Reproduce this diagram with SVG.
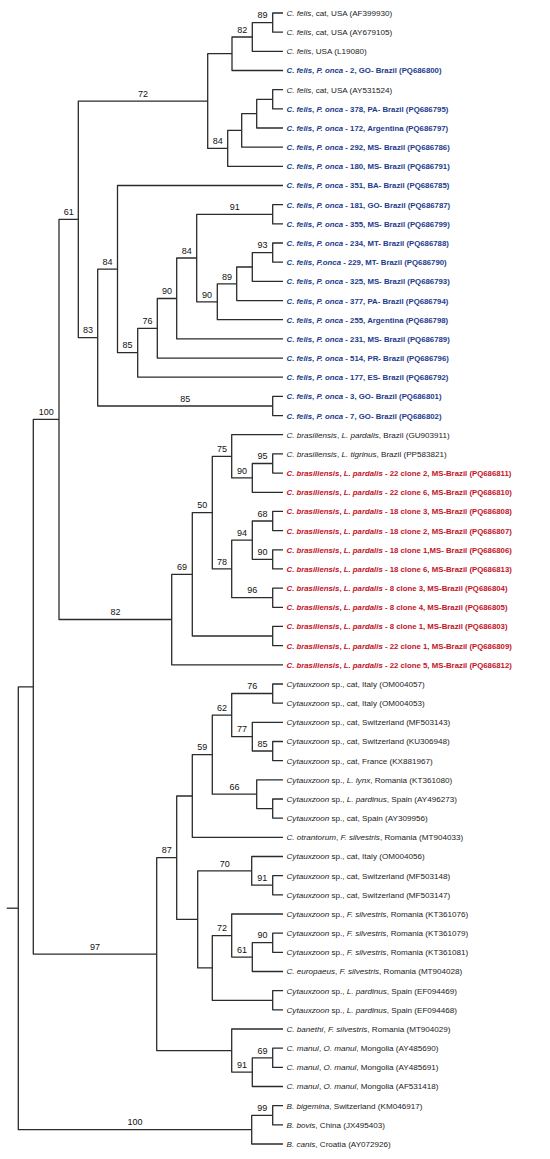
<svg xmlns="http://www.w3.org/2000/svg" width="550" height="1159" viewBox="0 0 550 1159">
<style>
.e{fill:none;stroke:#2b2b2b;stroke-width:1.3;stroke-linejoin:round;stroke-linecap:butt}
text{font-family:"Liberation Sans",Arial,sans-serif}
.l{font-size:8.1px;fill:#222}
.bl{font-size:7.8px;font-weight:bold;fill:#1d3a8c}
.rd{font-size:7.8px;font-weight:bold;fill:#c4121f}
.i{font-style:italic}
.bs{font-size:9px;fill:#111;text-anchor:middle}
</style>
<rect width="550" height="1159" fill="#fff"/>
<g id="connectors">
<path class="e" d="M283 13 H272.7 V32.2 H283"/>
<path class="e" d="M272.7 22.6 H252.3 V51.3 H283"/>
<path class="e" d="M252.3 37 H232 V70.5 H283"/>
<path class="e" d="M283 89.7 H272.7 V108.9 H283"/>
<path class="e" d="M272.7 99.3 H256.7 V128 H283"/>
<path class="e" d="M256.7 113.6 H241.7 V147.2 H283"/>
<path class="e" d="M241.7 130.4 H227.7 V166.4 H283"/>
<path class="e" d="M232 53.7 H207.7 V148.4 H227.7"/>
<path class="e" d="M283 204.7 H272.7 V223.9 H283"/>
<path class="e" d="M283 243 H272.7 V262.2 H283"/>
<path class="e" d="M272.7 252.6 H252.3 V281.4 H283"/>
<path class="e" d="M252.3 267 H236.7 V300.6 H283"/>
<path class="e" d="M236.7 283.8 H217.3 V319.7 H283"/>
<path class="e" d="M272.7 214.3 H196.7 V301.8 H217.3"/>
<path class="e" d="M196.7 258 H176.7 V338.9 H283"/>
<path class="e" d="M176.7 298.5 H157.3 V358.1 H283"/>
<path class="e" d="M157.3 328.3 H137.7 V377.2 H283"/>
<path class="e" d="M283 185.5 H117.5 V352.7 H137.7"/>
<path class="e" d="M283 396.4 H272.7 V415.6 H283"/>
<path class="e" d="M117.5 269.1 H97.7 V406 H272.7"/>
<path class="e" d="M207.7 101.1 H78.3 V337.6 H97.7"/>
<path class="e" d="M283 453.9 H272.7 V473.1 H283"/>
<path class="e" d="M272.7 463.5 H252.3 V492.3 H283"/>
<path class="e" d="M283 434.7 H231.7 V477.9 H252.3"/>
<path class="e" d="M283 511.4 H272.7 V530.6 H283"/>
<path class="e" d="M283 549.8 H272.7 V568.9 H283"/>
<path class="e" d="M272.7 521 H252.3 V559.3 H272.7"/>
<path class="e" d="M283 588.1 H272.7 V607.3 H283"/>
<path class="e" d="M252.3 540.2 H231.7 V597.7 H272.7"/>
<path class="e" d="M231.7 456.3 H212.3 V568.9 H231.7"/>
<path class="e" d="M283 626.4 H272.7 V645.6 H283"/>
<path class="e" d="M212.3 512.6 H192.3 V636 H272.7"/>
<path class="e" d="M192.3 574.3 H171.7 V664.8 H283"/>
<path class="e" d="M78.3 219.3 H59 V619.5 H171.7"/>
<path class="e" d="M283 684 H272.7 V703.1 H283"/>
<path class="e" d="M283 741.5 H272.7 V760.6 H283"/>
<path class="e" d="M283 722.3 H252.3 V751 H272.7"/>
<path class="e" d="M272.7 693.5 H231.7 V736.7 H252.3"/>
<path class="e" d="M283 799 H272.7 V818.1 H283"/>
<path class="e" d="M283 779.8 H256.7 V808.6 H272.7"/>
<path class="e" d="M231.7 715.1 H212.3 V794.2 H256.7"/>
<path class="e" d="M212.3 754.6 H192.3 V837.3 H283"/>
<path class="e" d="M283 875.7 H272.7 V894.8 H283"/>
<path class="e" d="M283 856.5 H251.7 V885.2 H272.7"/>
<path class="e" d="M283 933.2 H272.7 V952.3 H283"/>
<path class="e" d="M272.7 942.7 H252.3 V971.5 H283"/>
<path class="e" d="M283 914 H231.7 V957.1 H252.3"/>
<path class="e" d="M283 990.7 H272.7 V1009.8 H283"/>
<path class="e" d="M231.7 935.6 H212.3 V1000.3 H272.7"/>
<path class="e" d="M251.7 870.9 H197.7 V967.9 H212.3"/>
<path class="e" d="M192.3 796 H176.7 V919.4 H197.7"/>
<path class="e" d="M283 1048.2 H272.7 V1067.4 H283"/>
<path class="e" d="M272.7 1057.8 H252.3 V1086.5 H283"/>
<path class="e" d="M283 1029 H231.7 V1072.1 H252.3"/>
<path class="e" d="M176.7 857.7 H156.7 V1050.6 H231.7"/>
<path class="e" d="M283 1105.7 H272.7 V1124.9 H283"/>
<path class="e" d="M272.7 1115.3 H251.7 V1144 H283"/>
<path class="e" d="M59 419.4 H33.3 V954.1 H156.7"/>
<path class="e" d="M33.3 686.8 H18.3 V1129.7 H251.7"/>
<path class="e" d="M6.7 908.2 H18.3"/>
</g>
<g id="bootstrap">
<g id="b-n89"><text class="bs" x="262.5" y="18.3">89</text></g>
<g id="b-n82"><text class="bs" x="242.2" y="32.7">82</text></g>
<g id="b-n72"><text class="bs" x="143" y="96.8">72</text></g>
<g id="b-n84a"><text class="bs" x="217.7" y="144.1">84</text></g>
<g id="b-n91a"><text class="bs" x="234.7" y="210">91</text></g>
<g id="b-n84b"><text class="bs" x="186.7" y="253.7">84</text></g>
<g id="b-n93"><text class="bs" x="262.5" y="248.3">93</text></g>
<g id="b-n89b"><text class="bs" x="227" y="279.5">89</text></g>
<g id="b-n90b"><text class="bs" x="207" y="297.5">90</text></g>
<g id="b-n90a"><text class="bs" x="167" y="294.2">90</text></g>
<g id="b-n76"><text class="bs" x="147.5" y="324">76</text></g>
<g id="b-n85a"><text class="bs" x="127.6" y="348.4">85</text></g>
<g id="b-n84c"><text class="bs" x="107.6" y="264.8">84</text></g>
<g id="b-n83"><text class="bs" x="88" y="333.3">83</text></g>
<g id="b-n85b"><text class="bs" x="185.2" y="401.7">85</text></g>
<g id="b-n61"><text class="bs" x="68.7" y="215">61</text></g>
<g id="b-n100a"><text class="bs" x="46.2" y="415.1">100</text></g>
<g id="b-n75"><text class="bs" x="222" y="452">75</text></g>
<g id="b-n95"><text class="bs" x="262.5" y="459.2">95</text></g>
<g id="b-n90c"><text class="bs" x="242" y="473.6">90</text></g>
<g id="b-n50"><text class="bs" x="202.3" y="508.3">50</text></g>
<g id="b-n68"><text class="bs" x="262.5" y="516.7">68</text></g>
<g id="b-n94"><text class="bs" x="242" y="535.9">94</text></g>
<g id="b-n90d"><text class="bs" x="262.5" y="555">90</text></g>
<g id="b-n78"><text class="bs" x="222" y="564.6">78</text></g>
<g id="b-n69"><text class="bs" x="182" y="570">69</text></g>
<g id="b-n96"><text class="bs" x="252.2" y="593.4">96</text></g>
<g id="b-n82b"><text class="bs" x="115.4" y="615.2">82</text></g>
<g id="b-n76b"><text class="bs" x="252.2" y="689.2">76</text></g>
<g id="b-n62"><text class="bs" x="222" y="710.8">62</text></g>
<g id="b-n77"><text class="bs" x="242" y="732.4">77</text></g>
<g id="b-n85c"><text class="bs" x="262.5" y="746.7">85</text></g>
<g id="b-n59"><text class="bs" x="202.3" y="750.3">59</text></g>
<g id="b-n66"><text class="bs" x="234.5" y="789.9">66</text></g>
<g id="b-n87"><text class="bs" x="166.7" y="853.4">87</text></g>
<g id="b-n70"><text class="bs" x="224.7" y="866.6">70</text></g>
<g id="b-n91b"><text class="bs" x="262.2" y="880.9">91</text></g>
<g id="b-n72b"><text class="bs" x="222" y="931.3">72</text></g>
<g id="b-n90e"><text class="bs" x="262.5" y="938.4">90</text></g>
<g id="b-n61b"><text class="bs" x="242" y="952.8">61</text></g>
<g id="b-n97"><text class="bs" x="95" y="949.8">97</text></g>
<g id="b-n69b"><text class="bs" x="262.5" y="1053.5">69</text></g>
<g id="b-n91c"><text class="bs" x="242" y="1067.8">91</text></g>
<g id="b-n99"><text class="bs" x="262.2" y="1111">99</text></g>
<g id="b-n100b"><text class="bs" x="135" y="1125.4">100</text></g>
</g>
<g id="leaves">
<g id="L01"><text class="l" x="286.5" y="15.9"><tspan class="i">C. felis</tspan>, cat, USA (AF399930)</text></g>
<g id="L02"><text class="l" x="286.5" y="35.1"><tspan class="i">C. felis</tspan>, cat, USA (AY679105)</text></g>
<g id="L03"><text class="l" x="286.5" y="54.2"><tspan class="i">C. felis</tspan>, USA (L19080)</text></g>
<g id="L04"><text class="bl" x="286.5" y="73.4"><tspan class="i">C. felis</tspan>, <tspan class="i">P. onca</tspan> - 2, GO- Brazil (PQ686800)</text></g>
<g id="L05"><text class="l" x="286.5" y="92.6"><tspan class="i">C. felis</tspan>, cat, USA (AY531524)</text></g>
<g id="L06"><text class="bl" x="286.5" y="111.8"><tspan class="i">C. felis</tspan>, <tspan class="i">P. onca</tspan> - 378, PA- Brazil (PQ686795)</text></g>
<g id="L07"><text class="bl" x="286.5" y="130.9"><tspan class="i">C. felis</tspan>, <tspan class="i">P. onca</tspan> - 172, Argentina (PQ686797)</text></g>
<g id="L08"><text class="bl" x="286.5" y="150.1"><tspan class="i">C. felis</tspan>, <tspan class="i">P. onca</tspan> - 292, MS- Brazil (PQ686786)</text></g>
<g id="L09"><text class="bl" x="286.5" y="169.3"><tspan class="i">C. felis</tspan>, <tspan class="i">P. onca</tspan> - 180, MS- Brazil (PQ686791)</text></g>
<g id="L10"><text class="bl" x="286.5" y="188.4"><tspan class="i">C. felis</tspan>, <tspan class="i">P. onca</tspan> - 351, BA- Brazil (PQ686785)</text></g>
<g id="L11"><text class="bl" x="286.5" y="207.6"><tspan class="i">C. felis</tspan>, <tspan class="i">P. onca</tspan> - 181, GO- Brazil (PQ686787)</text></g>
<g id="L12"><text class="bl" x="286.5" y="226.8"><tspan class="i">C. felis</tspan>, <tspan class="i">P. onca</tspan> - 355, MS- Brazil (PQ686799)</text></g>
<g id="L13"><text class="bl" x="286.5" y="245.9"><tspan class="i">C. felis</tspan>, <tspan class="i">P. onca</tspan> - 234, MT- Brazil (PQ686788)</text></g>
<g id="L14"><text class="bl" x="286.5" y="265.1"><tspan class="i">C. felis</tspan>, <tspan class="i">P.onca</tspan> - 229, MT- Brazil (PQ686790)</text></g>
<g id="L15"><text class="bl" x="286.5" y="284.3"><tspan class="i">C. felis</tspan>, <tspan class="i">P. onca</tspan> - 325, MS- Brazil (PQ686793)</text></g>
<g id="L16"><text class="bl" x="286.5" y="303.5"><tspan class="i">C. felis</tspan>, <tspan class="i">P. onca</tspan> - 377, PA- Brazil (PQ686794)</text></g>
<g id="L17"><text class="bl" x="286.5" y="322.6"><tspan class="i">C. felis</tspan>, <tspan class="i">P. onca</tspan> - 255, Argentina (PQ686798)</text></g>
<g id="L18"><text class="bl" x="286.5" y="341.8"><tspan class="i">C. felis</tspan>, <tspan class="i">P. onca</tspan> - 231, MS- Brazil (PQ686789)</text></g>
<g id="L19"><text class="bl" x="286.5" y="361"><tspan class="i">C. felis</tspan>, <tspan class="i">P. onca</tspan> - 514, PR- Brazil (PQ686796)</text></g>
<g id="L20"><text class="bl" x="286.5" y="380.1"><tspan class="i">C. felis</tspan>, <tspan class="i">P. onca</tspan> - 177, ES- Brazil (PQ686792)</text></g>
<g id="L21"><text class="bl" x="286.5" y="399.3"><tspan class="i">C. felis</tspan>, <tspan class="i">P. onca</tspan> - 3, GO- Brazil (PQ686801)</text></g>
<g id="L22"><text class="bl" x="286.5" y="418.5"><tspan class="i">C. felis</tspan>, <tspan class="i">P. onca</tspan> - 7, GO- Brazil (PQ686802)</text></g>
<g id="L23"><text class="l" x="286.5" y="437.6"><tspan class="i">C. brasiliensis</tspan>, <tspan class="i">L. pardalis</tspan>, Brazil (GU903911)</text></g>
<g id="L24"><text class="l" x="286.5" y="456.8"><tspan class="i">C. brasiliensis</tspan>, <tspan class="i">L. tigrinus</tspan>, Brazil (PP583821)</text></g>
<g id="L25"><text class="rd" x="286.5" y="476"><tspan class="i">C. brasiliensis</tspan>, <tspan class="i">L. pardalis</tspan> - 22 clone 2, MS-Brazil (PQ686811)</text></g>
<g id="L26"><text class="rd" x="286.5" y="495.2"><tspan class="i">C. brasiliensis</tspan>, <tspan class="i">L. pardalis</tspan> - 22 clone 6, MS-Brazil (PQ686810)</text></g>
<g id="L27"><text class="rd" x="286.5" y="514.3"><tspan class="i">C. brasiliensis</tspan>, <tspan class="i">L. pardalis</tspan> - 18 clone 3, MS-Brazil (PQ686808)</text></g>
<g id="L28"><text class="rd" x="286.5" y="533.5"><tspan class="i">C. brasiliensis</tspan>, <tspan class="i">L. pardalis</tspan> - 18 clone 2, MS-Brazil (PQ686807)</text></g>
<g id="L29"><text class="rd" x="286.5" y="552.7"><tspan class="i">C. brasiliensis</tspan>, <tspan class="i">L. pardalis</tspan> - 18 clone 1,MS- Brazil (PQ686806)</text></g>
<g id="L30"><text class="rd" x="286.5" y="571.8"><tspan class="i">C. brasiliensis</tspan>, <tspan class="i">L. pardalis</tspan> - 18 clone 6, MS-Brazil (PQ686813)</text></g>
<g id="L31"><text class="rd" x="286.5" y="591"><tspan class="i">C. brasiliensis</tspan>, <tspan class="i">L. pardalis</tspan> - 8 clone 3, MS-Brazil (PQ686804)</text></g>
<g id="L32"><text class="rd" x="286.5" y="610.2"><tspan class="i">C. brasiliensis</tspan>, <tspan class="i">L. pardalis</tspan> - 8 clone 4, MS-Brazil (PQ686805)</text></g>
<g id="L33"><text class="rd" x="286.5" y="629.3"><tspan class="i">C. brasiliensis</tspan>, <tspan class="i">L. pardalis</tspan> - 8 clone 1, MS-Brazil (PQ686803)</text></g>
<g id="L34"><text class="rd" x="286.5" y="648.5"><tspan class="i">C. brasiliensis</tspan>, <tspan class="i">L. pardalis</tspan> - 22 clone 1, MS-Brazil (PQ686809)</text></g>
<g id="L35"><text class="rd" x="286.5" y="667.7"><tspan class="i">C. brasiliensis</tspan>, <tspan class="i">L. pardalis</tspan> - 22 clone 5, MS-Brazil (PQ686812)</text></g>
<g id="L36"><text class="l" x="286.5" y="686.9"><tspan class="i">Cytauxzoon</tspan> sp., cat, Italy (OM004057)</text></g>
<g id="L37"><text class="l" x="286.5" y="706"><tspan class="i">Cytauxzoon</tspan> sp., cat, Italy (OM004053)</text></g>
<g id="L38"><text class="l" x="286.5" y="725.2"><tspan class="i">Cytauxzoon</tspan> sp., cat, Switzerland (MF503143)</text></g>
<g id="L39"><text class="l" x="286.5" y="744.4"><tspan class="i">Cytauxzoon</tspan> sp., cat, Switzerland (KU306948)</text></g>
<g id="L40"><text class="l" x="286.5" y="763.5"><tspan class="i">Cytauxzoon</tspan> sp., cat, France (KX881967)</text></g>
<g id="L41"><text class="l" x="286.5" y="782.7"><tspan class="i">Cytauxzoon</tspan> sp., <tspan class="i">L. lynx</tspan>, Romania (KT361080)</text></g>
<g id="L42"><text class="l" x="286.5" y="801.9"><tspan class="i">Cytauxzoon</tspan> sp., <tspan class="i">L. pardinus</tspan>, Spain (AY496273)</text></g>
<g id="L43"><text class="l" x="286.5" y="821"><tspan class="i">Cytauxzoon</tspan> sp., cat, Spain (AY309956)</text></g>
<g id="L44"><text class="l" x="286.5" y="840.2"><tspan class="i">C. otrantorum</tspan>, <tspan class="i">F. silvestris</tspan>, Romania (MT904033)</text></g>
<g id="L45"><text class="l" x="286.5" y="859.4"><tspan class="i">Cytauxzoon</tspan> sp., cat, Italy (OM004056)</text></g>
<g id="L46"><text class="l" x="286.5" y="878.6"><tspan class="i">Cytauxzoon</tspan> sp., cat, Switzerland (MF503148)</text></g>
<g id="L47"><text class="l" x="286.5" y="897.7"><tspan class="i">Cytauxzoon</tspan> sp., cat, Switzerland (MF503147)</text></g>
<g id="L48"><text class="l" x="286.5" y="916.9"><tspan class="i">Cytauxzoon</tspan> sp., <tspan class="i">F. silvestris</tspan>, Romania (KT361076)</text></g>
<g id="L49"><text class="l" x="286.5" y="936.1"><tspan class="i">Cytauxzoon</tspan> sp., <tspan class="i">F. silvestris</tspan>, Romania (KT361079)</text></g>
<g id="L50"><text class="l" x="286.5" y="955.2"><tspan class="i">Cytauxzoon</tspan> sp., <tspan class="i">F. silvestris</tspan>, Romania (KT361081)</text></g>
<g id="L51"><text class="l" x="286.5" y="974.4"><tspan class="i">C. europaeus</tspan>, <tspan class="i">F. silvestris</tspan>, Romania (MT904028)</text></g>
<g id="L52"><text class="l" x="286.5" y="993.6"><tspan class="i">Cytauxzoon</tspan> sp., <tspan class="i">L. pardinus</tspan>, Spain (EF094469)</text></g>
<g id="L53"><text class="l" x="286.5" y="1012.7"><tspan class="i">Cytauxzoon</tspan> sp., <tspan class="i">L. pardinus</tspan>, Spain (EF094468)</text></g>
<g id="L54"><text class="l" x="286.5" y="1031.9"><tspan class="i">C. banethi</tspan>, <tspan class="i">F. silvestris</tspan>, Romania (MT904029)</text></g>
<g id="L55"><text class="l" x="286.5" y="1051.1"><tspan class="i">C. manul</tspan>, <tspan class="i">O. manul</tspan>, Mongolia (AY485690)</text></g>
<g id="L56"><text class="l" x="286.5" y="1070.3"><tspan class="i">C. manul</tspan>, <tspan class="i">O. manul</tspan>, Mongolia (AY485691)</text></g>
<g id="L57"><text class="l" x="286.5" y="1089.4"><tspan class="i">C. manul</tspan>, <tspan class="i">O. manul</tspan>, Mongolia (AF531418)</text></g>
<g id="L58"><text class="l" x="286.5" y="1108.6"><tspan class="i">B. bigemina</tspan>, Switzerland (KM046917)</text></g>
<g id="L59"><text class="l" x="286.5" y="1127.8"><tspan class="i">B. bovis</tspan>, China (JX495403)</text></g>
<g id="L60"><text class="l" x="286.5" y="1146.9"><tspan class="i">B. canis</tspan>, Croatia (AY072926)</text></g>
</g>
</svg>
